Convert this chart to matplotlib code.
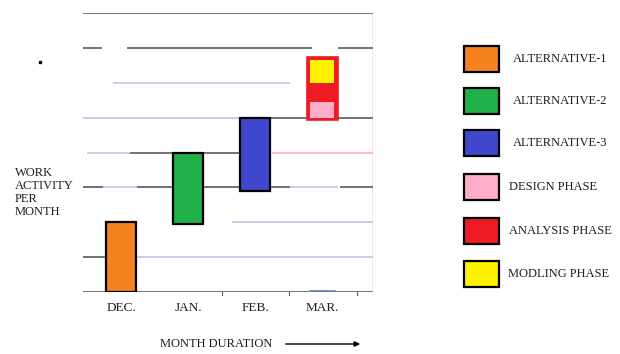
import matplotlib.pyplot as plt
from matplotlib.patches import Rectangle

plt.rcParams['font.family'] = ['Liberation Serif', 'DejaVu Serif']

# bar data (levels of work activity)
months = ["DEC.", "JAN.", "FEB.", "MAR."]
alt_low = [0.0, 1.95, 2.9]
alt_high = [2.0, 4.0, 5.0]
alt_colors = ["#F58220", "#22B04B", "#3F48CC"]

# march phases: (low, high)
mar_box = (4.94, 6.74)
design = (5.0, 5.46)
modling = (6.0, 6.66)

legend_labels = ["ALTERNATIVE-1", "ALTERNATIVE-2", "ALTERNATIVE-3",
                 "DESIGN PHASE", "ANALYSIS PHASE", "MODLING PHASE"]
legend_colors = ["#F58220", "#22B04B", "#3F48CC", "#FFAEC9", "#ED1C24", "#FFF200"]

GRAY = "#5a5a5a"
LAV = "#c4c4ee"
PINK = "#FFAEC9"
TXT = "#1e1e1e"

# grid segments: (level, x start, x end, color)
segments = [
    (8, -0.57, 3.76, GRAY),
    (7, -0.57, -0.28, GRAY), (7, 0.09, 2.85, GRAY), (7, 3.24, 3.76, GRAY),
    (6, -0.12, 2.52, LAV),
    (5, -0.57, 1.78, LAV), (5, 2.22, 3.76, GRAY),
    (4, -0.51, 0.13, LAV), (4, 0.13, 0.76, GRAY), (4, 1.22, 1.78, GRAY),
    (4, 2.25, 3.76, PINK),
    (3, -0.57, -0.27, GRAY), (3, -0.27, 0.24, LAV), (3, 0.24, 0.76, GRAY),
    (3, 1.22, 1.79, GRAY), (3, 2.18, 2.52, GRAY), (3, 2.52, 3.24, LAV),
    (3, 3.27, 3.76, GRAY),
    (2, 1.66, 3.76, LAV),
    (1, -0.57, -0.24, GRAY), (1, 0.24, 3.76, LAV),
    (0, -0.57, 3.76, GRAY),
]

fig = plt.figure(figsize=(6.2, 3.54), dpi=100)
ax = fig.add_axes([83 / 620, 62 / 354, 290 / 620, 279 / 354])
ax.set_xlim(-0.57, 3.76)
ax.set_ylim(0, 8)
for s in ax.spines.values():
    s.set_visible(False)
ax.set_yticks([])
ax.set_xticks(range(len(months)))
ax.set_xticklabels(months, fontsize=9.5, color=TXT)
ax.tick_params(axis="x", length=0, pad=7)

for lvl, x0, x1, c in segments:
    ax.plot([x0, x1], [lvl, lvl], color=c, lw=1.2, solid_capstyle="butt", zorder=1)
ax.plot([3.76, 3.76], [0, 8], color="#9a9a9a", lw=1.0, zorder=1)
for tx in [1.51, 2.5, 3.52]:
    ax.plot([tx, tx], [0, -0.1], color=GRAY, lw=0.8, clip_on=False)
ax.plot([2.82, 3.2], [0.03, 0.03], color="#6a7fbf", lw=1.2, zorder=2)

for i in range(3):
    ax.bar(i, alt_high[i] - alt_low[i], bottom=alt_low[i], width=0.45,
           color=alt_colors[i], edgecolor="black", linewidth=1.6, zorder=3)
ax.bar(3, mar_box[1] - mar_box[0], bottom=mar_box[0], width=0.46,
       color="#ED1C24", edgecolor="#ED1C24", linewidth=1.2, zorder=3)
ax.bar(3, design[1] - design[0], bottom=design[0], width=0.37,
       color=PINK, edgecolor="none", zorder=4)
ax.bar(3, modling[1] - modling[0], bottom=modling[0], width=0.37,
       color="#FFF200", edgecolor="none", zorder=4)

# overlay in pixel coordinates for legend and labels
ov = fig.add_axes([0, 0, 1, 1])
ov.set_xlim(0, 620)
ov.set_ylim(354, 0)
ov.axis("off")
ov.patch.set_alpha(0)

box_tops = [46, 88, 130, 174, 218, 261]
text_x = [513, 513, 513, 509, 509, 508]
for top, tx, lab, c in zip(box_tops, text_x, legend_labels, legend_colors):
    ov.add_patch(Rectangle((464, top), 35, 26, facecolor=c, edgecolor="black", lw=1.6))
    ov.text(tx, top + 13, lab, fontsize=9, color=TXT, va="center", ha="left")

for j, w in enumerate(["WORK", "ACTIVITY", "PER", "MONTH"]):
    ov.text(15, 173 + j * 13, w, fontsize=9, color=TXT, va="center", ha="left")

ov.text(160, 344, "MONTH DURATION", fontsize=9, color=TXT, va="center", ha="left")
ov.annotate("", xy=(363, 344), xytext=(283, 344),
            arrowprops=dict(arrowstyle="-|>", color="black", lw=1.0, mutation_scale=8))
ov.plot([40], [62], marker="s", ms=2, color="black")

fig.savefig("out.png", dpi=100)
